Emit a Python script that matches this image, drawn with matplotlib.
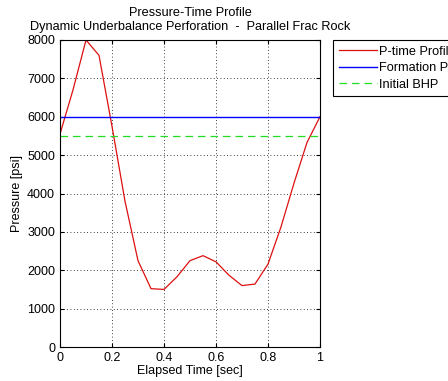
import matplotlib
matplotlib.use('Agg')
import matplotlib.pyplot as plt
import numpy as np

# Data
t = [0.0, 0.05, 0.1, 0.15, 0.2, 0.25, 0.3, 0.35, 0.4, 0.45, 0.5,
     0.55, 0.6, 0.65, 0.7, 0.75, 0.8, 0.85, 0.9, 0.95, 1.0]
p_time = [5550, 6700, 8000, 7600, 5750, 3800, 2250, 1520, 1500, 1830, 2250,
          2380, 2220, 1870, 1600, 1640, 2160, 3130, 4270, 5330, 6000]
formation_p = 6000
initial_bhp = 5500

xticks = [0, 0.2, 0.4, 0.6, 0.8, 1]
xticklabels = ['0', '0.2', '0.4', '0.6', '0.8', '1']
yticks = [0, 1000, 2000, 3000, 4000, 5000, 6000, 7000, 8000]

plt.rcParams['font.family'] = ['Liberation Sans', 'DejaVu Sans']
plt.rcParams['font.size'] = 9

fig = plt.figure(figsize=(4.48, 3.81), dpi=100)
ax = fig.add_axes([60/448, 1 - 347/381, 260/448, 307/381])

ax.plot(t, p_time, color='#dd1010', lw=0.9, label='P-time Profile')
ax.plot([0, 1], [formation_p, formation_p], color='#0000ff', lw=1.0, label='Formation P')
ax.plot([0, 1], [initial_bhp, initial_bhp], color='#22dd22', lw=0.9,
        ls=(0, (6, 4)), label='Initial BHP')

ax.set_xlim(0, 1)
ax.set_ylim(0, 8000)
ax.set_xticks(xticks)
ax.set_xticklabels(xticklabels)
ax.set_yticks(yticks)
ax.tick_params(direction='in', length=3, top=True, right=True)
ax.grid(True, color='black', ls=(0, (1, 3)), lw=0.6)

ax.set_xlabel('Elapsed Time [sec]', labelpad=1)
ax.set_ylabel('Pressure [psi]', labelpad=3)
ax.set_title('Pressure-Time Profile\nDynamic Underbalance Perforation  -  Parallel Frac Rock',
             fontsize=9.2, pad=7, linespacing=1.25)

leg = ax.legend(loc='upper left', bbox_to_anchor=(333/448, 1 - 40/381),
                bbox_transform=fig.transFigure, fancybox=False, edgecolor='black',
                framealpha=1, handlelength=3.0, borderaxespad=0, fontsize=9.2,
                handletextpad=0.15, labelspacing=0.35, borderpad=0.45)
leg.get_frame().set_linewidth(0.8)

fig.savefig('out.png', dpi=100)
